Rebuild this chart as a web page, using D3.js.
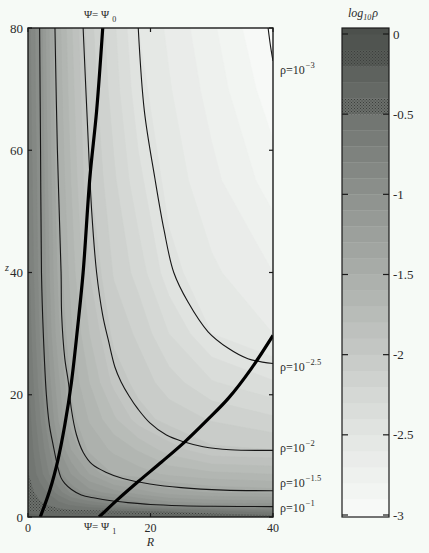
<!DOCTYPE html>
<html>
<head>
<meta charset="utf-8">
<script src="https://cdn.jsdelivr.net/npm/d3@7"></script>
<style>
body{margin:0;background:#f6faf6;}
svg{display:block;font-family:"Liberation Serif",serif;}
</style>
</head>
<body>
<svg id="chart" width="429" height="553"></svg>
<script>
const gridR = [0, 1, 2, 3, 5, 7, 10, 14, 18, 23, 30, 40];
const gridZ = [0, 1, 2, 4, 7, 11, 16, 22, 30, 40, 55, 70, 80];
const logRho = [
  [-0.20,-0.22,-0.24,-0.26,-0.28,-0.30,-0.30,-0.30,-0.32,-0.34,-0.36,-0.40],
  [-0.40,-0.42,-0.44,-0.45,-0.46,-0.47,-0.48,-0.49,-0.50,-0.52,-0.60,-0.70],
  [-0.44,-0.46,-0.48,-0.50,-0.55,-0.62,-0.70,-0.80,-0.92,-1.02,-1.06,-1.06],
  [-0.47,-0.50,-0.54,-0.60,-0.75,-0.92,-1.05,-1.15,-1.25,-1.35,-1.41,-1.44],
  [-0.49,-0.57,-0.66,-0.76,-0.96,-1.10,-1.30,-1.51,-1.55,-1.62,-1.67,-1.70],
  [-0.51,-0.62,-0.73,-0.84,-1.09,-1.30,-1.53,-1.62,-1.71,-1.85,-1.98,-2.00],
  [-0.54,-0.67,-0.80,-0.94,-1.21,-1.46,-1.61,-1.78,-1.95,-2.04,-2.11,-2.18],
  [-0.58,-0.72,-0.86,-1.01,-1.28,-1.52,-1.70,-1.93,-2.04,-2.15,-2.29,-2.39],
  [-0.62,-0.77,-0.92,-1.08,-1.38,-1.58,-1.80,-2.03,-2.12,-2.30,-2.50,-2.60],
  [-0.66,-0.81,-0.96,-1.12,-1.44,-1.64,-1.90,-2.11,-2.24,-2.46,-2.58,-2.70],
  [-0.70,-0.84,-0.98,-1.16,-1.50,-1.70,-1.99,-2.18,-2.37,-2.54,-2.67,-2.85],
  [-0.73,-0.87,-1.01,-1.20,-1.54,-1.75,-2.03,-2.25,-2.46,-2.59,-2.74,-2.96],
  [-0.75,-0.88,-1.02,-1.22,-1.56,-1.78,-2.06,-2.28,-2.50,-2.62,-2.78,-3.02]
];

// iso-density lines (R, z)
const levelExp = ["\u22121", "\u22121.5", "\u22122", "\u22122.5", "\u22123"];
const levelLabelZ = [0.8, 4.9, 10.6, 23.9, 72.5];
const rhoM1 = [[1.9,80],[2.05,60],[2.2,40],[2.5,30],[3.0,20],[3.5,15],[4.1,11.8],[4.9,8],[5.4,6.4],[6.0,5.5],[7.1,4.5],[8.7,3.6],[10.9,3.1],[13.6,2.65],[16.3,2.35],[20,2.05],[25,1.85],[30,1.75],[40,1.7]];
const rhoM15 = [[4.4,80],[4.8,60],[5.4,40],[5.5,33],[6.0,26],[6.6,22],[7.1,17.5],[7.9,13.5],[9,10.6],[10.5,8.6],[12.8,7.3],[15.5,6.3],[19.9,5.4],[25,4.8],[32,4.4],[40,4.3]];
const rhoM2 = [[9.0,80],[9.9,60],[10.4,50],[11.2,40],[12.2,33],[13.1,29],[14.2,24.5],[15.2,22.1],[16.5,19.8],[18,17.6],[19.9,15.4],[22.6,13.4],[25.4,12.3],[28.6,11.5],[33,11.0],[40,10.9]];
const rhoM25 = [[18,80],[19,66.4],[20.7,55.5],[22.2,47],[23.8,40],[26.1,35.2],[29.4,30.3],[32.7,27.6],[35.9,25.9],[40,25.1]];
const rhoM3 = [[39.2,80],[39.6,77],[40,74.6]];
const isoLines = [rhoM1, rhoM15, rhoM2, rhoM25, rhoM3];

// stream-function lines
const psi0 = [[12.2,80],[11.2,66.4],[10.1,55.5],[9.0,40],[8.1,31],[7.1,22.1],[6.0,15],[4.9,9.4],[3.6,4.5],[2.0,0]];
const psi1 = [[11.6,0],[14.8,3],[18,5.8],[21.8,9],[25.6,12.3],[29.2,15.8],[32.7,19.4],[36.4,24.2],[40,29.7]];

const rTicks = [0, 20, 40];
const zTicks = [0, 20, 40, 60, 80];
const barTicks = [0, -0.5, -1, -1.5, -2, -2.5, -3];
const barTickText = ["0", "-0.5", "-1", "-1.5", "-2", "-2.5", "-3"];

const plot = {left: 28, right: 273, top: 28, bottom: 517};
const bar = {left: 342, right: 389, top: 28, bottom: 517};

const svg = d3.select("#chart");
const x = d3.scaleLinear().domain([0, 40]).range([plot.left, plot.right]);
const y = d3.scaleLinear().domain([0, 80]).range([plot.bottom, plot.top]);
const yBar = d3.scaleLinear().domain([0, -3]).range([34, 515]);
const shade = d3.scaleLinear()
  .domain([-3, -2.5, -2, -1.5, -1, -0.5, 0])
  .range(["#f9fbf9", "#e3e6e3", "#c6c9c6", "#aaaeaa", "#8d918d", "#6f736f", "#4c504c"])
  .clamp(true);

const thresholds = d3.range(-31, 1).map(k => k / 10);
const dotted = t => Math.round(t * 10) === -5 || Math.round(t * 10) === -2;

const defs = svg.append("defs");
thresholds.filter(dotted).forEach(t => {
  const p = defs.append("pattern").attr("id", "dots" + Math.round(-t * 10))
    .attr("width", 3).attr("height", 3).attr("patternUnits", "userSpaceOnUse");
  p.append("rect").attr("width", 3).attr("height", 3).attr("fill", shade(t + 0.05));
  p.append("rect").attr("width", 1).attr("height", 1).attr("fill", "#3c3f3c");
  p.append("rect").attr("x", 1.5).attr("y", 1.5).attr("width", 1).attr("height", 1).attr("fill", "#3c3f3c");
});
const bandFill = t => dotted(t) ? "url(#dots" + Math.round(-t * 10) + ")" : shade(t + 0.05);

defs.append("clipPath").attr("id", "plotclip").append("rect")
  .attr("x", plot.left).attr("y", plot.top)
  .attr("width", plot.right - plot.left).attr("height", plot.bottom - plot.top);

// shaded density field
const colIdx = d3.scaleLinear().domain(d3.range(gridR.length)).range(gridR);
const rowIdx = d3.scaleLinear().domain(d3.range(gridZ.length)).range(gridZ);
const clampTo = (v, n) => Math.max(0, Math.min(n - 1, v));
const proj = d3.geoTransform({
  point(px, py) {
    this.stream.point(x(colIdx(clampTo(px - 0.5, gridR.length))),
                      y(rowIdx(clampTo(py - 0.5, gridZ.length))));
  }
});
const bands = d3.contours().size([gridR.length, gridZ.length])
  .thresholds(thresholds)(logRho.flat());

const field = svg.append("g").attr("clip-path", "url(#plotclip)");
field.selectAll("path.band").data(bands).join("path")
  .attr("class", "band")
  .attr("d", d3.geoPath(proj))
  .attr("fill", d => bandFill(d.value))
  .attr("stroke", d => dotted(d.value) ? "none" : shade(d.value + 0.05))
  .attr("stroke-width", 0.5);

const line = d3.line().x(d => x(d[0])).y(d => y(d[1])).curve(d3.curveCatmullRom.alpha(0.5));
field.selectAll("path.iso").data(isoLines).join("path")
  .attr("class", "iso")
  .attr("d", line)
  .attr("fill", "none").attr("stroke", "#161616").attr("stroke-width", 1.1);
field.selectAll("path.psi").data([psi0, psi1]).join("path")
  .attr("class", "psi")
  .attr("d", line)
  .attr("fill", "none").attr("stroke", "#000").attr("stroke-width", 3.2);

// frame and mirrored inward ticks
svg.append("rect").attr("x", plot.left).attr("y", plot.top)
  .attr("width", plot.right - plot.left).attr("height", plot.bottom - plot.top)
  .attr("fill", "none").attr("stroke", "#1a1a1a").attr("stroke-width", 1.4);
const ticks = svg.append("g").attr("stroke", "#1a1a1a").attr("stroke-width", 1.2);
rTicks.forEach(r => {
  ticks.append("line").attr("x1", x(r)).attr("x2", x(r)).attr("y1", plot.bottom).attr("y2", plot.bottom - 4);
  ticks.append("line").attr("x1", x(r)).attr("x2", x(r)).attr("y1", plot.top).attr("y2", plot.top + 4);
});
zTicks.forEach(z => {
  ticks.append("line").attr("x1", plot.left).attr("x2", plot.left + 4).attr("y1", y(z)).attr("y2", y(z));
  ticks.append("line").attr("x1", plot.right).attr("x2", plot.right - 4).attr("y1", y(z)).attr("y2", y(z));
});

const txt = svg.append("g").attr("fill", "#2a2a2a").attr("font-size", 13);
rTicks.forEach(r => txt.append("text").attr("x", x(r)).attr("y", 532)
  .attr("text-anchor", "middle").attr("font-size", 12).text(r));
zTicks.forEach(z => txt.append("text").attr("x", 23).attr("y", y(z) + 4.5)
  .attr("text-anchor", "end").text(z));
txt.append("text").attr("x", x(20)).attr("y", 546).attr("text-anchor", "middle")
  .attr("font-style", "italic").attr("font-size", 12).text("R");
txt.append("text").attr("x", 5).attr("y", 271)
  .attr("font-style", "italic").attr("font-size", 10).text("z");

// psi labels
function psiLabel(px, py, sub) {
  const t = txt.append("text").attr("x", px).attr("y", py).attr("font-size", 11);
  t.append("tspan").text("\u03A8= \u03A8");
  t.append("tspan").attr("dx", 3).attr("dy", 4).attr("font-size", 8).text(sub);
}
psiLabel(84, 18, "0");
psiLabel(84, 530, "1");

// rho labels on the right
levelExp.forEach((e, i) => {
  const t = txt.append("text").attr("x", 280).attr("y", y(levelLabelZ[i])).attr("font-size", 12);
  t.append("tspan").text("\u03C1=10");
  t.append("tspan").attr("dx", 1).attr("dy", -6).attr("font-size", 8.5).text(e);
});

// colour bar
const barG = svg.append("g");
thresholds.forEach(t => {
  const hiV = Math.min(t + 0.1, yBar.invert(bar.top));
  const loV = Math.max(t, yBar.invert(bar.bottom));
  if (hiV <= loV) return;
  barG.append("rect").attr("x", bar.left).attr("width", bar.right - bar.left)
    .attr("y", yBar(hiV)).attr("height", yBar(loV) - yBar(hiV) + 0.3)
    .attr("fill", bandFill(t));
});
barG.append("rect").attr("x", bar.left).attr("y", bar.top)
  .attr("width", bar.right - bar.left).attr("height", bar.bottom - bar.top)
  .attr("fill", "none").attr("stroke", "#1a1a1a").attr("stroke-width", 1.2);
barTicks.forEach((v, i) => {
  barG.append("line").attr("x1", bar.left).attr("x2", bar.left + 6)
    .attr("y1", yBar(v)).attr("y2", yBar(v)).attr("stroke", "#1a1a1a").attr("stroke-width", 1.2);
  barG.append("line").attr("x1", bar.right).attr("x2", bar.right - 6)
    .attr("y1", yBar(v)).attr("y2", yBar(v)).attr("stroke", "#1a1a1a").attr("stroke-width", 1.2);
  txt.append("text").attr("x", 393).attr("y", yBar(v) + 4.5).text(barTickText[i]);
});
const title = txt.append("text").attr("x", 348).attr("y", 17)
  .attr("font-style", "italic").attr("font-size", 12);
title.append("tspan").text("log");
title.append("tspan").attr("dy", 3).attr("font-size", 8).text("10");
title.append("tspan").attr("dy", -3).attr("dx", 1).text("\u03C1");
</script>
</body>
</html>
